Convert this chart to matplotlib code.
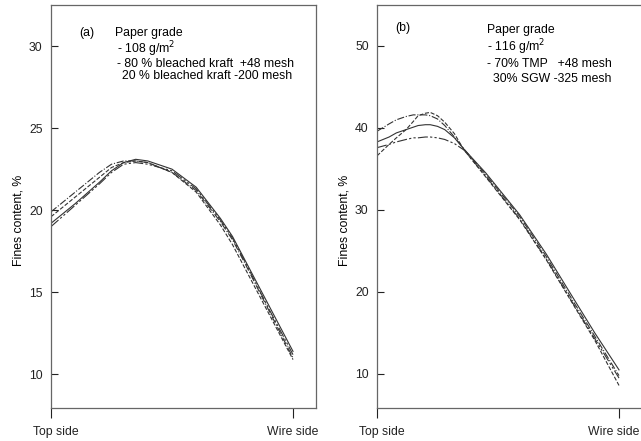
import matplotlib
matplotlib.use("Agg")
import matplotlib.pyplot as plt
from matplotlib.transforms import ScaledTranslation

plt.rcParams['font.family'] = ['Liberation Sans', 'DejaVu Sans']
plt.rcParams['font.size'] = 8.8

# through-thickness position, 0 = top side, 1 = wire side
pos_a = [0.0, 0.1, 0.2, 0.25, 0.3, 0.35, 0.4, 0.5, 0.6, 0.7, 0.75, 0.8, 0.9, 1.0]
fines_a_solid = [19.2, 20.4, 21.7, 22.4, 22.9, 23.1, 23.0, 22.5, 21.4, 19.5, 18.4, 17.0, 14.2, 11.4]
fines_a_dashdot = [19.9, 21.1, 22.3, 22.8, 23.0, 23.0, 22.9, 22.3, 21.2, 19.3, 18.2, 16.8, 13.9, 11.0]
fines_a_dashed = [19.6, 20.8, 22.0, 22.6, 22.9, 23.0, 22.9, 22.3, 21.1, 19.1, 17.9, 16.5, 13.7, 10.9]
fines_a_longdash = [19.0, 20.3, 21.6, 22.3, 22.8, 22.9, 22.8, 22.4, 21.3, 19.4, 18.3, 16.9, 14.0, 11.2]

pos_b = [0.0, 0.05, 0.08, 0.12, 0.15, 0.17, 0.2, 0.22, 0.25, 0.28, 0.32, 0.36,
         0.45, 0.59, 0.7, 0.81, 0.9, 1.0]
fines_b_dashdot = [39.6, 40.5, 41.0, 41.4, 41.6, 41.6, 41.6, 41.5, 41.1, 40.3, 38.9, 37.4,
                   34.3, 29.2, 24.3, 18.9, 14.6, 9.8]
fines_b_dashed = [36.6, 38.0, 38.8, 39.8, 40.8, 41.5, 41.8, 41.9, 41.5, 40.7, 39.3, 37.3,
                  34.0, 28.8, 23.9, 18.5, 14.1, 8.6]
fines_b_solid = [38.3, 38.9, 39.4, 39.8, 40.1, 40.3, 40.4, 40.4, 40.2, 39.8, 38.8, 37.4,
                 34.5, 29.4, 24.6, 19.3, 15.0, 10.5]
fines_b_longdash = [37.6, 38.0, 38.3, 38.6, 38.8, 38.8, 38.9, 38.9, 38.8, 38.6, 38.1, 37.3,
                    34.1, 28.9, 24.0, 18.6, 14.3, 9.5]

styles = ['-', '-.', '--', (0, (9, 2, 2, 2, 2, 2))]
line_color = '#333333'

fig = plt.figure(figsize=(6.41, 4.41), dpi=100)
ax_a = fig.add_axes([51 / 641, 33 / 441, 265 / 641, 403 / 441])
ax_b = fig.add_axes([377 / 641, 33 / 441, 265 / 641, 403 / 441])


def setup_axes(ax, ylim, yticks):
    ax.set_xlim(0, 1.095)
    ax.set_ylim(*ylim)
    ax.set_yticks(yticks)
    ax.set_xticks([0, 1])
    ax.set_xticklabels(['Top side', 'Wire side'])
    ax.tick_params(axis='y', direction='in', length=5, width=0.8, pad=6, colors='#222222')
    ax.tick_params(axis='x', direction='out', length=7, width=0.8, pad=6, colors='#222222')
    for s in ax.spines.values():
        s.set_color('#666666')
        s.set_linewidth(0.9)
    ax.set_ylabel('Fines content, %')
    ax.yaxis.set_label_coords(-0.1, 0.465)
    # nudge the "Top side" label a little right of its tick
    top_lbl = ax.get_xticklabels()[0]
    top_lbl.set_transform(top_lbl.get_transform() + ScaledTranslation(5 / 100, 0, fig.dpi_scale_trans))


setup_axes(ax_a, (7.95, 32.5), [10, 15, 20, 25, 30])
setup_axes(ax_b, (5.85, 55), [10, 20, 30, 40, 50])

# keep the right-hand "Wire side" inside the figure edge
wire_lbl = ax_b.get_xticklabels()[1]
wire_lbl.set_transform(wire_lbl.get_transform() + ScaledTranslation(-5 / 100, 0, fig.dpi_scale_trans))

for ys, ls in zip([fines_a_solid, fines_a_dashdot, fines_a_dashed, fines_a_longdash], styles):
    ax_a.plot(pos_a, ys, ls=ls, color=line_color, lw=0.8)
for ys, ls in zip([fines_b_solid, fines_b_dashdot, fines_b_dashed, fines_b_longdash], styles):
    ax_b.plot(pos_b, ys, ls=ls, color=line_color, lw=0.8)

note = dict(va='baseline')
ax_a.text(0.107, 0.923, '(a)', transform=ax_a.transAxes, **note)
ax_a.text(0.2415, 0.923, 'Paper grade', transform=ax_a.transAxes, **note)
ax_a.text(0.249, 0.8805, '- 108 g/m$^2$', transform=ax_a.transAxes, **note)
ax_a.text(0.249, 0.8455, '- 80 % bleached kraft  +48 mesh', transform=ax_a.transAxes, **note)
ax_a.text(0.268, 0.817, '20 % bleached kraft -200 mesh', transform=ax_a.transAxes, **note)

ax_b.text(0.068, 0.936, '(b)', transform=ax_b.transAxes, **note)
ax_b.text(0.415, 0.9295, 'Paper grade', transform=ax_b.transAxes, **note)
ax_b.text(0.415, 0.886, '- 116 g/m$^2$', transform=ax_b.transAxes, **note)
ax_b.text(0.415, 0.846, '- 70% TMP   +48 mesh', transform=ax_b.transAxes, **note)
ax_b.text(0.438, 0.81, '30% SGW -325 mesh', transform=ax_b.transAxes, **note)

fig.savefig('out.png', dpi=100)
